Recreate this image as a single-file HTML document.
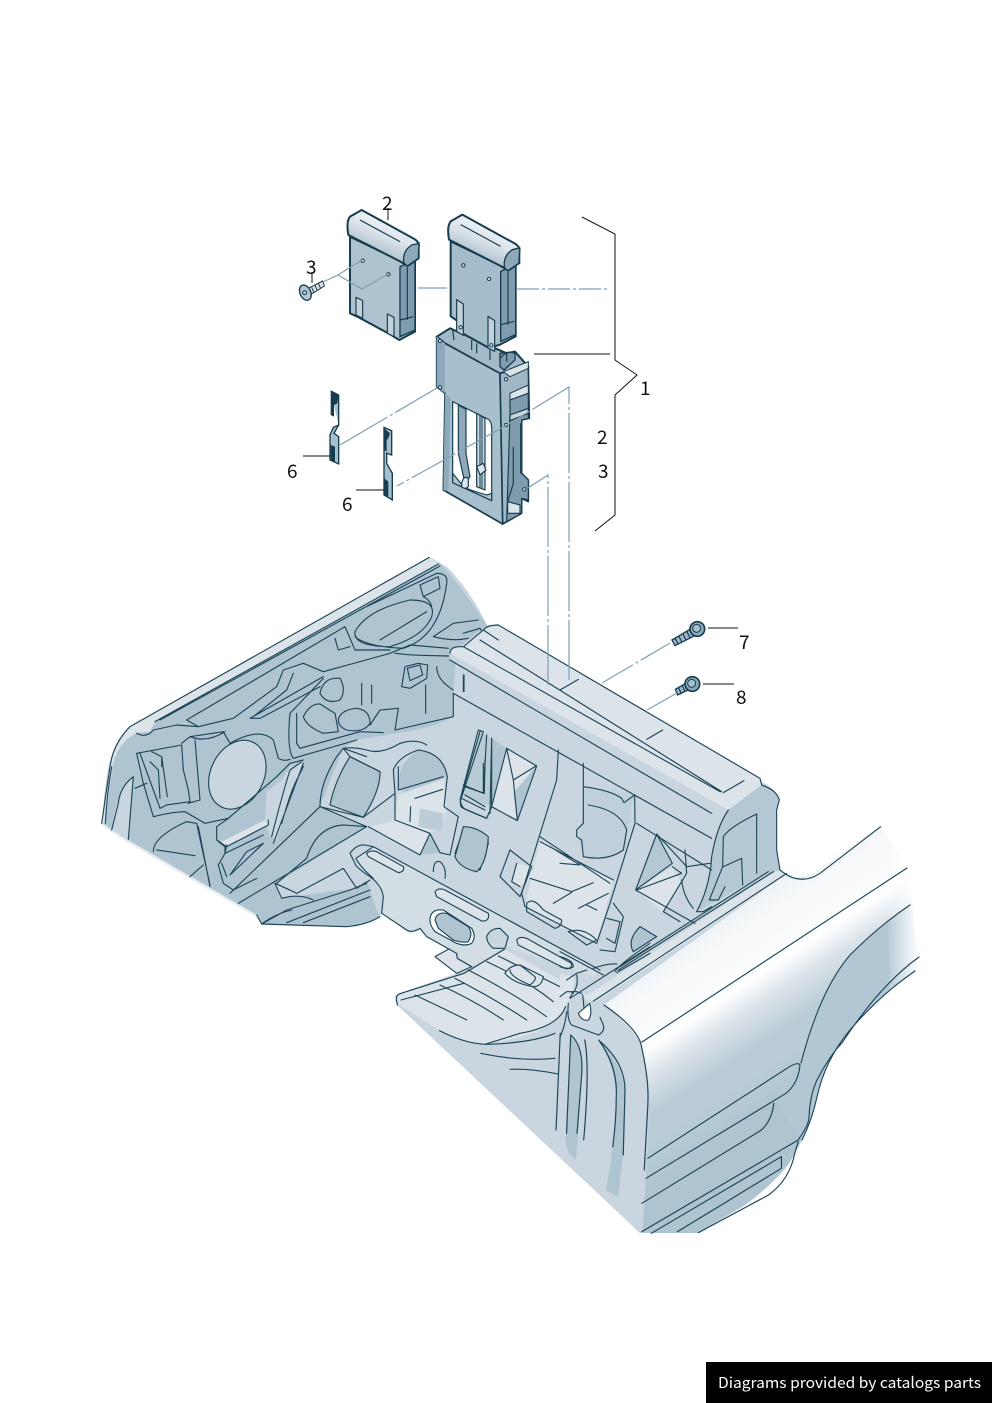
<!DOCTYPE html>
<html><head><meta charset="utf-8"><style>
html,body{margin:0;padding:0;background:#fff}
svg{display:block}
text{font-family:"Noto Sans CJK JP","Liberation Sans",sans-serif;fill:#111}
.l{fill:none;stroke:#1d4557;stroke-width:3.4;stroke-linecap:round;stroke-linejoin:round}
.f{stroke:#1d4557;stroke-width:3.4;stroke-linejoin:round}
.r{fill:none;stroke:#1d4557;stroke-width:1.13;stroke-linecap:round;stroke-linejoin:round}
.p{stroke:#163c4e;stroke-width:6;stroke-linejoin:round}
.pl{stroke:#163c4e;stroke-width:3.5;stroke-linejoin:round}
.pl:not([fill]){fill:none}
</style></head><body>
<svg xmlns="http://www.w3.org/2000/svg" width="992" height="1403" viewBox="0 0 992 1403">
<defs>
<linearGradient id="fg" gradientUnits="userSpaceOnUse" x1="785" y1="875" x2="950" y2="1126">
<stop offset="0" stop-color="#eef2f5"/><stop offset=".08" stop-color="#f7f9fa"/><stop offset=".2" stop-color="#fbfcfc"/><stop offset=".23" stop-color="#fff"/><stop offset=".31" stop-color="#dce4ea"/><stop offset=".42" stop-color="#bacdd6"/><stop offset=".5" stop-color="#bacdd6"/><stop offset=".62" stop-color="#aec4d1"/>
</linearGradient>
<linearGradient id="rf" gradientUnits="userSpaceOnUse" x1="885" y1="0" x2="917" y2="0">
<stop offset="0" stop-color="#fff" stop-opacity="0"/><stop offset="1" stop-color="#fff" stop-opacity=".95"/>
</linearGradient>
<linearGradient id="hd" gradientUnits="userSpaceOnUse" x1="325" y1="125" x2="290" y2="205">
<stop offset="0" stop-color="#eef2f5"/><stop offset=".5" stop-color="#dbe3e9"/><stop offset="1" stop-color="#b8c9d4"/>
</linearGradient>
</defs>

<!-- base silhouette -->
<path d="M102,823 L108,770 Q114,735 135,725 L430,557 L447,567 Q470,590 487,625 L498,625 L762,782 Q777,790 780,800 L777,810 L777,850 L780,870 Q795,885 815,872 L880,826 L907,868 L912,905 L917,958 L915,971 Q880,995 850,1030 Q825,1060 817,1097 Q812,1120 802,1140 L795,1153 Q785,1175 745,1205 L698,1233 L640,1233 L397,1005 L395,995 L457,973 L437,958 L450,949 L427,937 L418,928 L410,933 L382,913 L380,917 L347,927 L262,924 L257,915 L128,840Z" fill="#c9d6df"/>

<!-- fender -->
<path d="M604,1005 L785,875 Q797,885 815,872 L880,826 L907,868 L912,905 L917,958 L915,971 Q880,995 850,1030 Q825,1060 817,1097 Q812,1120 802,1140 L795,1153 Q785,1175 745,1205 L698,1233 L642,1233 Q650,1130 648,1090 Q645,1060 641,1043 Q625,1020 604,1005Z" fill="url(#fg)"/>
<path d="M800,1063 Q820,990 850,955 Q880,925 910,905 L917,958 L915,971 Q880,995 850,1030 Q825,1060 817,1097 Q812,1120 802,1140 L775,1100Z" fill="#b2c7d3"/>
<path d="M880,826 L907,868 L912,905 L917,958 L915,971 L890,990 L885,840Z" fill="url(#rf)"/>

<!-- left wall z2 -->
<g transform="translate(90,550) scale(.33333)">
<path d="M35,820 L45,720 Q60,600 110,545 L1018,30 L1055,45 Q1100,90 1190,225 L1100,300 L1090,430 L1090,500 Q1040,530 950,545 L800,570 L760,595 L690,770 L830,830 L560,1000 L570,1045 L650,1035 L790,1015 L830,990 L860,1080 L870,1100 Q830,1125 770,1130 L515,1122 L500,1095 L115,870 L65,840Z" fill="#aec4d1"/>
<path d="M1018,22 L120,530 Q70,580 60,650 L35,820 L45,820 L68,650 Q80,580 140,548 L180,545 L195,515 L1045,42Z" fill="#dce4ea"/>
<path d="M65,840 Q75,730 128,682 L115,868Z" fill="#c9d6df"/>
<path d="M40,825 L115,875 L500,1098" fill="none" stroke="#dce4ea" stroke-width="7" opacity=".75"/>
<ellipse cx="442" cy="674" rx="80" ry="108" transform="rotate(26 442 674)" fill="#c9d6df" class="f"/>
<path d="M530,725 L575,690 L600,650 L640,632 L560,870 L540,860 L525,810Z" fill="#c9d6df"/>
<path d="M385,880 L525,810 L535,825 L410,888Z" fill="#dce4ea"/>
<path d="M690,770 L760,595 L830,620 L910,660 L915,730 L835,830Z" fill="#c9d6df"/>
<path d="M780,620 L870,665 Q872,720 820,802 L720,765 Q735,690 780,620Z" fill="#aec4d1" class="f"/>
<path d="M925,720 Q920,640 985,600 Q1060,610 1072,680 L945,725Z" fill="#aec4d1"/>
<path d="M925,735 L1062,688 L1068,780 Q1060,830 1020,850 L915,810Z" fill="#dce4ea"/>
<path d="M990,775 L1060,790 L1055,845 L985,830Z" fill="#bccdd7"/>
<path d="M835,830 L925,810 L1020,850 L990,915Z" fill="#dce4ea"/>
<path d="M990,915 L1020,850 L1050,908Z" fill="#aec4d1"/>
<path d="M555,1000 L830,840 L985,915 L830,990 L790,1015 L650,1035 L570,1045Z" fill="#c9d6df"/>
<path d="M1120,840 Q1195,850 1195,880 L1170,960 Q1110,950 1095,910 Z" fill="#aec4d1" class="f"/>
<path d="M1170,545 L1260,600 L1260,650 L1205,770 L1120,740Z" fill="#aec4d1" opacity=".6"/>
<path class="l" d="M1018,22 L120,530 Q70,580 60,650 L35,820 M1045,42 L195,515 M65,650 Q50,740 46,820 M1050,48 L210,510 M130,680 Q90,710 85,760 L65,840 M130,680 L115,868"/>
<path class="l" d="M140,550 Q170,565 190,540 L260,525 L325,530 L430,505 L560,410 L580,360 L640,340 L700,365 L900,310 L960,285 L1075,295 M290,510 L325,530 M765,230 L290,510 M765,230 L795,300 Q840,300 900,300 M735,265 L745,300 L780,290 M480,505 L700,380 M480,505 L510,505 L690,410 M610,370 L590,420 L490,500"/>
<path class="l" d="M795,245 Q830,180 960,150 Q1040,150 1025,200 Q1000,260 900,290 Q790,290 795,245Z M870,270 L1010,185 M795,260 Q830,290 940,295 Q1050,260 1070,100 Q1075,70 1040,70 L830,170 M990,105 L1045,80 L1050,115 L1000,140Z M1000,140 Q1020,150 1025,170 M1030,260 L1090,220 L1165,210 M1030,260 Q1090,275 1135,265 M1120,250 L1170,235 L1180,250 L1160,275"/>
<path class="l" d="M610,625 Q590,600 600,490 L700,385 M620,490 L620,580 L630,595 L810,545 L880,548 M610,625 L800,570 M915,540 L1090,500 Q1090,450 1090,430 M915,540 L925,475 L870,480 L840,525 M745,510 Q750,480 800,475 Q840,480 840,520 Q820,550 770,540 Q745,530 745,510Z M640,500 Q660,460 690,462 L735,490 L745,545 L700,550 Q650,530 640,500Z M690,430 Q700,380 750,385 Q770,420 750,450 Q710,465 690,430Z"/>
<path class="l" d="M815,400 L815,465 M845,405 L845,460 M1007,405 L1007,490 M1013,345 L1010,385 L960,415 L935,410 L945,350 L985,340 L1013,345 M952,355 L990,345 L998,375 L960,392Z M915,310 Q960,315 990,316 L1075,318 M1040,350 Q1040,390 1090,420"/>
<path class="l" d="M140,610 L275,585 L280,660 L295,720 L300,755 L230,765 L210,775 L190,720 L150,610 M140,610 L160,700 L190,800 Q250,785 285,785 L345,820 L415,805 L560,680 L600,640 L640,630 M185,605 L215,620 L215,650 M180,635 L205,660 L210,745 M215,620 L232,740 M135,715 L170,700 M275,580 L300,560 L400,545 L420,580 M315,570 L330,750 L295,760 M300,560 Q350,580 405,545 M420,580 Q510,530 550,570 L565,625 Q580,635 600,628"/>
<path class="l" d="M190,905 Q190,860 290,815 L320,820 L360,1005 M200,900 L315,917 M300,980 L340,945 M325,830 L360,1010"/>
<path class="l" d="M380,830 L380,870 L410,890 L535,825 L535,810 M415,805 L380,830 M385,875 L405,890 L405,910 L385,945 L400,1000 L430,1020 L500,985 M420,975 L520,880 M395,940 L410,980 M420,975 L470,905 L520,880 M410,885 L405,910 L520,855"/>
<path class="l" d="M545,860 Q575,740 600,660 L635,635 M575,820 Q600,730 620,690 L640,650 M640,640 L550,880 M420,1030 L690,770 L830,830 L445,1060 M560,1000 L650,925 Q680,830 760,825 L830,830"/>
<path class="l" d="M690,770 Q690,700 740,620 L760,595 L830,620 M690,770 L820,802 L915,730 L910,660 Q925,620 985,600 Q1060,610 1072,680 L1062,770 L1105,800 L1080,915 L1050,908 L1020,850 L915,810 L915,730 M925,650 L925,720 L1060,680 M975,745 L1058,718 M962,770 L960,815 M835,830 L990,915 L1020,850 M780,620 L870,665 M760,595 L780,620 M760,595 Q790,590 830,600 Q870,615 930,580 Q980,565 1010,585 M1030,965 Q1030,930 1050,935 Q1070,950 1065,985"/>
<path class="l" d="M555,1000 L575,1045 Q630,1030 670,1050 M555,1000 Q600,1020 620,1030 L760,955 L800,1015 L840,990 M500,1095 L515,1122 L590,1080 L780,1020 L830,1000 M520,1118 Q560,1090 605,1080 M590,1118 L840,1020 M640,1118 L840,1040 M515,1122 L770,1130 Q830,1125 870,1100"/>
<path class="l" d="M1170,545 L1115,735 Q1105,770 1120,775 L1190,805 L1205,770 L1260,600 M1180,640 L1180,730 L1120,705 M1190,555 L1180,730 M1205,565 L1200,790 M1115,745 L1185,780 M1120,375 L1120,425"/>
</g>

<!-- beam / center z3 -->
<g transform="translate(440,610) scale(.33333)">
<path d="M175,45 L965,510 L965,525 L865,600 L30,130 Q35,110 60,110 L130,60Z" fill="#dce4ea"/>
<path d="M30,130 L840,590 L815,610 L30,150Z" fill="#c9d6df"/>
<path d="M865,600 L965,525 Q1010,540 1018,570 L1010,600 L1010,720 L1020,780 L980,790 L770,905 Q810,830 815,740 Q830,650 865,600Z" fill="#b3c8d4"/>
<path d="M200,415 L288,468 L232,632 L155,590Z" fill="#dce4ea"/>
<path d="M288,468 L232,632 L220,550Z" fill="#aec4d1"/>
<path d="M155,385 L198,415 L155,590Z" fill="#aec4d1"/>
<path d="M650,672 L697,760 L587,840Z" fill="#b3c8d4"/>
<path d="M587,840 L697,770 L725,820 L670,905 Z" fill="#dce4ea"/>
<path d="M430,530 Q510,540 580,555 L560,710 Q500,760 430,740 L412,680 L425,640Z" fill="#c0d0da"/>
<path d="M300,690 L520,810 L470,1000 L385,960 L255,890Z" fill="#dce4ea"/>
<path d="M230,760 L275,770 L275,800 L240,830 L215,815Z" fill="#dce4ea"/>
<path d="M70,650 Q110,650 145,680 Q140,760 110,785 Q60,775 45,740Z" fill="#aec4d1" class="f"/>
<path d="M600,950 L650,980 L580,1025 Q560,990 600,950Z" fill="#aec4d1" class="f"/>
<path d="M1005,785 L1025,782 L1040,795 L430,1200 L375,1200Z" fill="#dce4ea"/>
<path class="l" d="M175,45 L960,505 L965,525 M120,90 L845,545 M70,110 L840,545 M30,130 Q30,110 60,110 L70,110 M30,150 L815,610 M40,250 L815,685 M175,45 Q140,45 130,60 L70,110 M360,240 L415,208 M620,388 L668,360 M850,548 L912,512 M130,60 L175,90 M72,195 L72,245"/>
<path class="l" d="M865,600 Q830,650 815,740 Q810,830 770,905 M965,525 Q1010,540 1018,570 L1010,600 L1010,720 L1020,780 M950,612 L950,790 M950,612 Q870,650 850,680 L848,770 L808,870 M850,770 L905,745 L908,825 M808,870 L835,870 L855,830"/>
<path class="l" d="M115,360 L130,365 L62,570 Q60,590 80,600 L140,625 L155,590 L200,415 L290,468 L232,632 L155,590 M115,360 L60,570 M135,450 L133,550 L75,530 M155,385 L155,590 M75,555 L135,590 M200,415 L220,510 L232,632 M220,510 L288,468"/>
<path class="l" d="M355,420 L350,510 L245,850 L255,890 L470,1000 L510,880 L585,640 L584,555 M430,460 L430,640 L410,660 L410,680 L425,690 L430,740 M430,530 Q510,540 545,565 L552,578 L584,555 M445,585 Q540,600 560,660 L550,720 Q500,755 430,740 M590,640 L815,780 M300,680 L510,820 M300,695 L520,810 M360,760 L420,765 L330,710 M270,805 L395,845 L460,818 M340,880 L395,847 M415,895 L505,850 M440,885 L470,900"/>
<path class="l" d="M650,672 L697,760 L587,840Z M697,770 L725,790 L590,840 M650,672 L740,770 L810,760 M735,720 L740,790 L670,905 L720,935 M725,810 Q730,860 760,895 M770,905 L790,905 L815,890 M587,840 L765,940"/>
<path class="l" d="M210,720 L180,800 L240,860 L275,770 L210,720 M230,760 L215,815 L240,830 M260,880 Q280,860 310,900 L365,930 Q365,950 345,955 L260,905Z M385,965 Q430,950 470,990 L440,1005Z M500,925 L540,935 L525,1000 L500,985 M520,880 L550,920 L525,1025 L480,1020"/>
<path class="l" d="M535,1080 L1000,785 M540,1070 L985,785 M1040,790 L420,1200"/>
<path class="l" d="M1020,780 Q1080,830 1140,790 L1322,650"/>
</g>

<!-- cross-member strip z5 -->
<g transform="translate(340,830) scale(.33333)">
<path d="M285,380 L330,355 L350,370 L352,385 L395,410 L350,430Z" fill="#dce4ea" class="f"/>
<path d="M30,70 Q50,42 75,45 L100,50 L780,420 L700,470 L500,350 L395,410 L352,385 L350,370 L260,320 L240,295 L210,310 L125,250 L130,200 Q125,165 90,140 Q45,100 30,70Z" fill="#c9d6df"/>
<path d="M48,85 L100,50 L780,420 L760,440 L500,350 L395,410 L352,385 L350,370 L260,320 L240,295 L210,310 L125,250 L130,200 Q125,165 90,140Z" fill="#d2dde4"/>
<path class="l" d="M30,70 Q50,42 75,45 L100,50 L780,420 M48,85 L100,50 M30,70 L45,100 Q45,110 90,140 Q125,165 130,200 L125,250 L200,300 Q215,310 240,295 L260,320 L350,370 L352,385 L395,410 M48,85 Q60,110 100,145"/>
<path class="f" fill="#dce4ea" d="M80,70 Q90,60 110,65 L190,110 Q195,125 175,128 L85,80Z"/>
<path class="f" fill="#dce4ea" d="M285,185 Q295,172 315,180 L445,250 Q450,275 425,273 L290,200Z"/>
<path class="f" fill="#dce4ea" d="M530,330 Q540,318 560,325 L695,400 Q695,420 675,415 L535,345Z"/>
<path class="f" fill="#c9d6df" d="M440,320 Q450,295 480,295 L505,320 L495,355 L460,355 Q440,340 440,320Z"/>
<path class="f" fill="#fff" d="M270,265 Q275,235 310,240 L395,295 Q410,320 395,340 Q375,350 350,340 L285,305 Q268,285 270,265Z"/>
<path class="f" fill="#aec4d1" d="M285,270 Q290,245 320,250 L385,290 Q400,310 385,335 Q370,340 340,330 L295,295Z"/>
</g>

<!-- front floor z4 -->
<g transform="translate(380,940) scale(.35,.33333)">
<path d="M45,165 L240,100 L355,28 L600,170 L530,200 Q510,280 300,312 Q220,305 170,270 L55,195Z" fill="#dce4ea"/>
<path d="M50,190 L170,272 Q240,310 300,313 Q430,310 510,270 L530,200 L600,180 L640,200 Q730,270 745,310 L770,460 L750,880 L740,878 Q640,770 400,540Z" fill="#c9d6df"/>
<path d="M545,285 Q585,320 575,420 L565,590 L560,660 Q530,640 530,590Z" fill="#aec4d1"/>
<path d="M625,300 Q690,370 700,450 L695,640 L680,770 L645,750 Q670,620 675,470 Q670,380 625,300Z" fill="#aec4d1"/>
<path class="l" d="M50,195 Q40,165 60,160 L240,100 L355,28 M60,180 L240,130 M170,272 Q240,310 300,313 Q430,310 500,280 M530,200 Q510,260 400,280 L300,313 M288,340 Q400,365 500,355 M372,388 Q430,385 508,402 M515,280 L503,570 M545,285 L533,580 M545,285 Q585,320 575,420 L563,580 M585,300 Q600,380 582,600 M625,300 Q680,380 675,470 Q675,540 665,620 M630,305 Q700,370 700,450 L695,645 M640,195 Q730,260 745,310 Q770,420 765,500 L755,690"/>
<path class="l" d="M765,655 L1170,380 Q1195,365 1200,375 Q1195,430 1160,460 L760,715 M1125,490 Q1120,540 1090,570 L748,790 M748,875 L1195,600 M775,880 L1147,650 L1147,685 L850,875 M910,878 L1110,765 Q1170,720 1185,640 L1195,605"/>
</g>

<!-- floor ribs and bump (z5) -->
<g transform="translate(340,830) scale(.33333)">
<path class="l" d="M225,495 Q320,540 380,570 M300,465 Q400,510 490,570 M345,445 Q470,510 560,570 M385,420 Q520,490 620,560 M440,395 Q560,450 640,515 M475,378 L700,490"/>
<path class="f" fill="#dce4ea" d="M495,430 Q510,405 540,405 L610,440 Q605,470 580,470 Q520,460 495,430Z"/>
<path class="l" d="M510,420 Q510,440 570,465 Q590,450 585,440 L540,405"/>
</g>

<!-- corner detail where rail meets body -->
<g transform="translate(560,940) scale(.33333)">
<path d="M30,175 L45,110 L0,100 L0,190Z" fill="#dce4ea"/>
<path d="M30,175 L68,150 L72,205 L55,220 L25,190Z" fill="#c9d6df"/>
<path d="M55,215 Q65,245 85,240 Q97,225 90,195 L72,205Z" fill="#fff"/>
<path d="M68,165 L85,195 L72,205Z" fill="#b9cbd6"/>
<path class="l" d="M30,175 L270,20 M72,205 L55,220 Q65,245 85,240 Q97,225 90,195 M68,165 L72,205 L90,190 M25,190 Q20,240 35,255 L115,285 Q135,275 130,255 L120,232 M20,215 Q15,260 0,290 M165,95 Q175,75 270,10 M170,98 L270,40 M50,105 Q55,130 45,150 L30,172 M0,35 L130,105 M0,50 Q40,60 40,80 Q30,90 0,80 M100,85 Q140,70 170,72 M0,170 L20,155 L50,155 L65,160 M20,120 L50,100 L80,90"/>
</g>

<path class="r" d="M642,1042 L907,868 M801,1063 Q820,990 850,955 Q880,925 910,905 M798,1140 Q809,1125 809,1117 Q810,1095 817,1080 Q830,1055 842,1043 Q880,985 919,957 M802,1140 Q812,1120 817,1097 Q825,1060 850,1030 Q880,995 915,971"/>

<!-- frame back wall -->
<g transform="translate(280,180) scale(.33333)">
<path class="p" d="M470,470 L510,445 L680,520 L705,515 L745,560 L660,582 L495,490Z" fill="#a3bac8"/>
<path class="pl" d="M518,450 L522,480 M575,480 L575,510 M590,490 L590,520 M630,500 L630,540"/>
</g>

<!-- parts z1 -->
<g transform="translate(280,180) scale(.33333)">
<!-- left cover -->
<path class="p" d="M210,170 L210,400 L232,410 L325,460 L358,480 L405,455 L405,245 L385,260 L355,240Z" fill="#aec2cf"/>
<path d="M360,260 L405,240 L405,450 L360,470Z" fill="#7f9cae" stroke="#163c4e" stroke-width="4"/>
<path d="M382,262 L382,420 M360,420 L400,410" class="pl"/>
<path class="p" d="M205,165 Q198,125 210,110 L245,90 L405,178 Q420,190 416,200 L416,235 L382,258 L372,250Z" fill="url(#hd)"/>
<path d="M240,120 L360,185" class="pl"/>
<path d="M372,250 Q365,215 395,195 L417,190 L415,235 L382,258Z" fill="#8da8b9" stroke="#163c4e" stroke-width="4"/>
<path d="M228,352 L228,405 L248,415 L248,362Z M322,402 L322,460 L342,470 L342,412Z" class="pl" fill="#c3d1da"/>
<circle cx="248" cy="242" r="5" fill="#dce4ea" stroke="#163c4e" stroke-width="3"/><circle cx="325" cy="283" r="5" fill="#dce4ea" stroke="#163c4e" stroke-width="3"/>
<!-- right cover -->
<g transform="translate(302,14)">
<path class="p" d="M210,170 L210,395 L232,410 L235,440 L325,490 L358,480 L405,455 L405,245 L385,260 L355,240Z" fill="#a5bcca"/>
<path d="M360,260 L405,240 L405,450 L360,470Z" fill="#7f9cae" stroke="#163c4e" stroke-width="4"/>
<path d="M382,262 L382,420 M360,420 L400,410" class="pl"/>
<path class="p" d="M205,165 Q198,125 210,110 L245,90 L405,178 Q420,190 416,200 L416,235 L382,258 L372,250Z" fill="url(#hd)"/>
<path d="M240,120 L360,185" class="pl"/>
<path d="M372,250 Q365,215 395,195 L417,190 L415,235 L382,258Z" fill="#8da8b9" stroke="#163c4e" stroke-width="4"/>
<path d="M228,345 L228,440 L248,452 L248,358Z M322,395 L322,490 L342,500 L342,408Z" class="pl" fill="#c3d1da"/>
<circle cx="248" cy="242" r="5" fill="#dce4ea" stroke="#163c4e" stroke-width="3"/><circle cx="325" cy="283" r="5" fill="#dce4ea" stroke="#163c4e" stroke-width="3"/>
<circle cx="240" cy="428" r="5" fill="#dce4ea" stroke="#163c4e" stroke-width="3"/><circle cx="332" cy="482" r="5" fill="#dce4ea" stroke="#163c4e" stroke-width="3"/>
</g>
<!-- frame front -->
<path d="M660,520 L705,515 L705,540 L672,570 L660,560Z" fill="#7f9cae" stroke="#163c4e" stroke-width="4"/>
<path class="pl" d="M660,535 Q680,510 705,520 M680,520 L680,545"/>
<path class="p" d="M495,490 L660,580 L672,1020 L668,1032 L490,930 L495,640 L470,620 L470,470Z" fill="#a8bfcd" style="stroke-width:5"/>
<path d="M470,470 L495,490 L495,640 L470,620Z M495,640 L490,930 L505,935 L512,655Z" fill="#8ea9ba"/>
<path d="M660,580 L745,560 L748,715 L725,720 L725,880 L745,900 L745,965 L725,955 L725,1000 L668,1032Z" fill="#a0b8c6" stroke="#163c4e" stroke-width="5" stroke-linejoin="round"/>
<path d="M670,575 L745,545 L745,565 L690,590Z M690,640 L745,615 L745,640 L690,660Z" fill="#dce4ea" stroke="#163c4e" stroke-width="3"/>
<path d="M690,660 L745,640 L745,715 L725,720 L725,880 L745,900 L745,960 L725,955 L725,1000 L680,1025 L690,700Z" fill="#7f9cae" class="pl"/>
<path d="M683,965 L720,975 L720,1000 L683,1000Z" fill="#dce4ea" class="pl"/>
<path d="M700,800 L700,910 L683,965 M722,730 L722,880" class="pl"/>
<path d="M690,705 L745,685 L745,700 L690,722Z" fill="#c8d6df" class="pl"/>
<!-- window -->
<path d="M518,665 L625,718 Q637,725 635,760 L635,960 L518,905Z" fill="#fff" stroke="#163c4e" stroke-width="3.5"/>
<path d="M535,675 L558,688 L558,820 L570,890 L555,910 L535,820Z" fill="#8ea9ba" class="pl"/>
<path d="M590,700 L615,715 L615,930 L590,920Z" fill="#c8d6df" class="pl"/>
<path d="M600,705 L600,925 M606,708 L606,928" stroke="#163c4e" stroke-width="3"/>
<path d="M518,880 L555,925 L620,945 L635,940 L635,962 L518,908Z" fill="#b0c5d2" class="pl"/>
<path d="M545,910 Q550,885 565,895 L565,920 Q555,930 545,920Z" fill="#dce4ea" class="pl"/>
<path d="M590,860 L610,850 L618,870 L600,885Z" fill="#dce4ea" class="pl"/>
<circle cx="480" cy="622" r="5" fill="#dce4ea" stroke="#163c4e" stroke-width="3"/><circle cx="480" cy="483" r="5" fill="#dce4ea" stroke="#163c4e" stroke-width="3"/>
<circle cx="678" cy="598" r="5" fill="#dce4ea" stroke="#163c4e" stroke-width="3"/><circle cx="678" cy="735" r="5" fill="#dce4ea" stroke="#163c4e" stroke-width="3"/><circle cx="733" cy="928" r="5" fill="#dce4ea" stroke="#163c4e" stroke-width="3"/>
<!-- clips -->
<path d="M152,633 L176,645 L176,735 L160,742 L150,765 L150,840 L176,852 L176,770 L162,760 L176,735" fill="#a8bfcd" stroke="#163c4e" stroke-width="4"/>
<path d="M152,633 L152,705 L162,710 L162,675 L172,670 L176,645Z M152,795 L165,800 L165,845 L152,840Z" fill="#163c4e"/>
<path d="M312,742 L335,752 L335,825 L320,820 L320,850 L337,880 L337,960 L312,945Z" fill="#a8bfcd" stroke="#163c4e" stroke-width="4"/>
<path d="M313,745 L330,760 L325,775 L320,780 L320,815 L313,810Z M313,895 L325,905 L325,950 L313,945Z" fill="#163c4e"/>
<!-- screw 3 -->
<path d="M85,325 L128,303 L133,318 L90,345Z" fill="#dce4ea" stroke="#163c4e" stroke-width="3"/>
<path d="M95,322 L102,338 M105,316 L112,332 M115,310 L122,326" stroke="#163c4e" stroke-width="3"/>
<ellipse cx="76" cy="338" rx="16" ry="24" transform="rotate(-25 76 338)" fill="#b4c8d3" stroke="#163c4e" stroke-width="4"/>
<circle cx="74" cy="338" r="6" fill="none" stroke="#163c4e" stroke-width="3"/>
</g>

<!-- bolts z3 -->
<g transform="translate(440,610) scale(.33333)">
<path d="M696,90 L755,55 L768,75 L705,107Z" fill="#9fb8c7" stroke="#163c4e" stroke-width="4"/>
<path d="M705,85 L715,103 M716,78 L726,97 M728,71 L738,90 M740,64 L750,83" stroke="#163c4e" stroke-width="3.5"/>
<circle cx="772" cy="57" r="22" fill="#8da8b9" stroke="#163c4e" stroke-width="5"/><circle cx="770" cy="55" r="12" fill="#a8bfcd" stroke="#163c4e" stroke-width="3"/>
<path d="M706,238 L738,220 L748,238 L713,255Z" fill="#9fb8c7" stroke="#163c4e" stroke-width="4"/>
<path d="M715,233 L724,250 M726,226 L735,244" stroke="#163c4e" stroke-width="3.5"/>
<circle cx="757" cy="222" r="22" fill="#8da8b9" stroke="#163c4e" stroke-width="5"/><circle cx="755" cy="220" r="12" fill="#a8bfcd" stroke="#163c4e" stroke-width="3"/>
</g>

<!-- connectors -->
<g fill="none" stroke="#7ea0b4" stroke-width="1.2">
<path d="M418,288 H447"/>
<path d="M517,289 H609" stroke-dasharray="22 3 3 3"/>
<path d="M569,680 V387 L507,425" stroke-dasharray="60 3 3 3"/>
<path d="M507,425 L397,486" stroke-dasharray="50 3 3 3"/>
<path d="M548,685 V475 L528,488" stroke-dasharray="60 3 3 3"/>
<path d="M340,445 L437,388" stroke-dasharray="55 3 3 3"/>
<path d="M323,282 L338,275 L362,260 M338,275 L362,289 L388,274" />
<path d="M602,683 L670,643" stroke-dasharray="36 3 3 3"/>
<path d="M647,710 L677,693"/>
</g>
<path d="M582,217 L615,234 V360 L637,375 L615,395 V515 L595,531" fill="none" stroke="#111" stroke-width="1"/>
<path d="M534,354 H610 M388,208 V220 M312,272 V283 M303,456 H330 M356,490 H384 M708,628 H738 M703,684 H734" fill="none" stroke="#111" stroke-width="1"/>

<g font-size="19">
<text x="382" y="210">2</text>
<text x="306" y="274">3</text>
<text x="640" y="395">1</text>
<text x="597" y="444">2</text>
<text x="598" y="478">3</text>
<text x="287" y="478">6</text>
<text x="342" y="511">6</text>
<text x="739" y="649">7</text>
<text x="736" y="704">8</text>
</g>
<rect x="706" y="1362" width="286" height="41" fill="#000"/>
<text x="718" y="1388" font-size="15" style="fill:#fff" textLength="263" lengthAdjust="spacingAndGlyphs">Diagrams provided by catalogs parts</text>
</svg>
</body></html>
